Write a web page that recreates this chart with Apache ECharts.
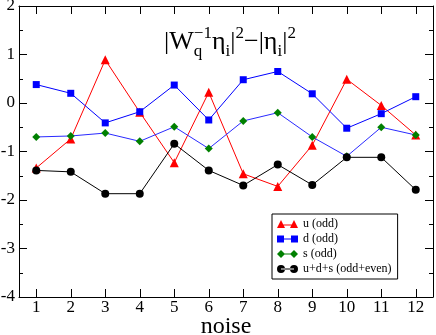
<!DOCTYPE html>
<html>
<head>
<meta charset="utf-8">
<script src="https://cdn.jsdelivr.net/npm/echarts@6/dist/echarts.min.js"></script>
<style>
html,body{margin:0;padding:0;background:#fff;}
#chart{width:436px;height:335px;}
</style>
</head>
<body>
<div id="chart"></div>
<script>
// ---- data ----
const categories = ['1','2','3','4','5','6','7','8','9','10','11','12'];
const uOdd   = [-1.34, -0.74, 0.89, -0.19, -1.23, 0.22, -1.46, -1.72, -0.87, 0.49, -0.05, -0.66];
const dOdd   = [0.38, 0.20, -0.41, -0.18, 0.37, -0.35, 0.48, 0.65, 0.19, -0.52, -0.22, 0.13];
const sOdd   = [-0.70, -0.68, -0.62, -0.79, -0.49, -0.94, -0.37, -0.20, -0.70, -1.10, -0.50, -0.66];
const udsAll = [-1.39, -1.42, -1.87, -1.87, -0.84, -1.39, -1.70, -1.27, -1.69, -1.12, -1.12, -1.79];
const seriesNames = ['u (odd)', 'd (odd)', 's (odd)', 'u+d+s (odd+even)'];
const xName = 'noise';

const FONT = '"Liberation Serif", "Times New Roman", serif';

// ---- title pieces (math text) ----
const titlePieces = [
  {t:'|W', r:'M'},
  {t:'q', r:'sub', stack:true},
  {t:'\u22121', r:'sup'},
  {t:'\u03B7', r:'M'},
  {t:'i', r:'sub'},
  {t:'|', r:'M'},
  {t:'2', r:'sup'},
  {t:'\u2212', r:'M'},
  {t:'|\u03B7', r:'M'},
  {t:'i', r:'sub'},
  {t:'|', r:'M'},
  {t:'2', r:'sup'}
];
const MS = 26, SS = 17, baseY = 50, subDY = 7, supDY = -11, titleCX = 230;
const cv = document.createElement('canvas').getContext('2d');
function tw(t, s){ cv.font = s + 'px ' + FONT; return cv.measureText(t).width; }
function buildTitle(){
  let layout = [], x = 0, i = 0;
  while (i < titlePieces.length) {
    const p = titlePieces[i];
    if (p.stack) {
      const q = titlePieces[i+1];
      const w1 = tw(p.t, SS), w2 = tw(q.t, SS);
      layout.push({p, x}); layout.push({p:q, x});
      x += Math.max(w1, w2); i += 2; continue;
    }
    const s = p.r === 'M' ? MS : SS;
    layout.push({p, x}); x += tw(p.t, s); i++;
  }
  const x0 = titleCX - x/2;
  return layout.map(o => {
    const s = o.p.r === 'M' ? MS : SS;
    const by = baseY + (o.p.r === 'sub' ? subDY : o.p.r === 'sup' ? supDY : 0);
    return {
      type:'text', x: x0 + o.x, y: by - 0.3*s, silent:true,
      style:{text:o.p.t, font: s + 'px ' + FONT, fill:'#000', textAlign:'left', textVerticalAlign:'middle', verticalAlign:'middle'}
    };
  });
}

const chart = echarts.init(document.getElementById('chart'), null, {renderer:'canvas'});
const axisLine = {show:true, onZero:false, lineStyle:{color:'#000', width:1}};
const option = {
  animation:false,
  backgroundColor:'#fff',
  grid:{left:19, right:3, top:6, bottom:38, containLabel:false, outerBoundsMode:'none'},
  xAxis:[{
    type:'category', data:categories, position:'bottom', boundaryGap:true,
    axisLine, axisTick:{show:true, inside:true, alignWithLabel:true, length:8, lineStyle:{color:'#000'}},
    axisLabel:{show:true, color:'#000', fontFamily:FONT, fontSize:17, margin:2},
    splitLine:{show:false},
    name:xName, nameLocation:'middle', nameGap:18, nameMoveOverlap:false,
    nameTextStyle:{color:'#000', fontFamily:FONT, fontSize:24}
  },{
    type:'category', data:categories, position:'top', boundaryGap:true,
    axisLine, axisTick:{show:true, inside:true, alignWithLabel:true, length:8, lineStyle:{color:'#000'}},
    axisLabel:{show:false}, splitLine:{show:false}
  }],
  yAxis:[{
    type:'value', min:-4, max:2, interval:1, position:'left',
    axisLine, axisTick:{show:true, inside:true, length:8, lineStyle:{color:'#000'}},
    minorTick:{show:true, splitNumber:2, length:4, lineStyle:{color:'#000'}},
    axisLabel:{color:'#000', fontFamily:FONT, fontSize:17, margin:4},
    splitLine:{show:false}
  },{
    type:'value', min:-4, max:2, interval:1, position:'right',
    axisLine, axisTick:{show:true, inside:true, length:8, lineStyle:{color:'#000'}},
    minorTick:{show:true, splitNumber:2, length:4, lineStyle:{color:'#000'}},
    axisLabel:{show:false}, splitLine:{show:false}
  }],
  legend:{
    orient:'vertical', left:272, top:214,
    itemWidth:21, itemHeight:8, itemGap:3,
    padding:[4,6,4,5],
    borderColor:'#000', borderWidth:1, backgroundColor:'#fff',
    textStyle:{color:'#000', fontFamily:FONT, fontSize:12},
    data:[
      {name:seriesNames[0], icon:'path://M0,8 L4,0 L8,8 Z M13,8 L17,0 L21,8 Z M4,4.5 L17,4.5 L17,5.5 L4,5.5 Z'},
      {name:seriesNames[1], icon:'path://M0,0.5 H7 V7.5 H0 Z M14,0.5 H21 V7.5 H14 Z M4,3.5 H17 V4.5 H4 Z M0,0 H0.01 V8 H0 Z'},
      {name:seriesNames[2], icon:'path://M4,0 L8,4 L4,8 L0,4 Z M17,0 L21,4 L17,8 L13,4 Z M4,3.5 H17 V4.5 H4 Z'},
      {name:seriesNames[3], icon:'path://M0,4 A4,4 0 1,0 8,4 A4,4 0 1,0 0,4 Z M13,4 A4,4 0 1,0 21,4 A4,4 0 1,0 13,4 Z M4,3.5 H17 V4.5 H4 Z'}
    ]
  },
  graphic: buildTitle(),
  series:[
    {name:seriesNames[0], type:'line', data:uOdd, symbol:'triangle', symbolSize:9,
     itemStyle:{color:'#ff0000'}, lineStyle:{color:'#ff0000', width:1}},
    {name:seriesNames[1], type:'line', data:dOdd, symbol:'rect', symbolSize:7,
     itemStyle:{color:'#0000ff'}, lineStyle:{color:'#0000ff', width:1}},
    {name:seriesNames[2], type:'line', data:sOdd, symbol:'diamond', symbolSize:8,
     itemStyle:{color:'#008000'}, lineStyle:{color:'#2a2aff', width:1}},
    {name:seriesNames[3], type:'line', data:udsAll, symbol:'circle', symbolSize:8,
     itemStyle:{color:'#000'}, lineStyle:{color:'#000', width:1}}
  ]
};
option.series.forEach(s => { s.showAllSymbol = true; s.emphasis = {disabled:true}; s.silent = true; });
chart.setOption(option);
</script>
</body>
</html>
